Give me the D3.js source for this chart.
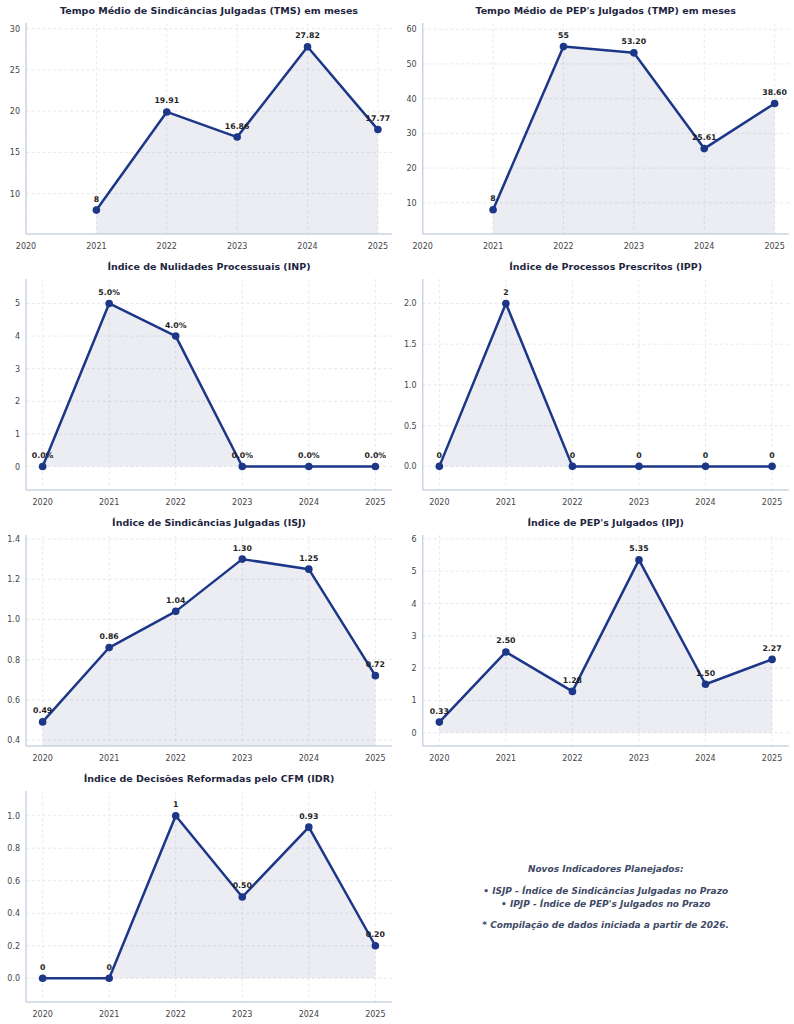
<!DOCTYPE html>
<html>
<head>
<meta charset="utf-8">
<script src="https://cdn.jsdelivr.net/npm/d3@7"></script>
<style>
  body { margin: 0; background: #fff; }
  text { font-family: "DejaVu Sans", sans-serif; }
</style>
</head>
<body>
<div id="chart"></div>
<script>
var years = [2020, 2021, 2022, 2023, 2024, 2025];

var titles = [
    "Tempo Médio de Sindicâncias Julgadas (TMS) em meses",
    "Tempo Médio de PEP's Julgados (TMP) em meses",
    "Índice de Nulidades Processuais (INP)",
    "Índice de Processos Prescritos (IPP)",
    "Índice de Sindicâncias Julgadas (ISJ)",
    "Índice de PEP's Julgados (IPJ)",
    "Índice de Decisões Reformadas pelo CFM (IDR)"
];

var tms = [null, 8, 19.91, 16.86, 27.82, 17.77],
    tmp = [null, 8, 55, 53.20, 25.61, 38.60],
    inp = [0, 5.0, 4.0, 0, 0, 0],
    ipp = [0, 2, 0, 0, 0, 0],
    isj = [0.49, 0.86, 1.04, 1.30, 1.25, 0.72],
    ipj = [0.33, 2.50, 1.28, 5.35, 1.50, 2.27],
    idr = [0, 0, 1, 0.50, 0.93, 0.20];

var series = [tms, tmp, inp, ipp, isj, ipj, idr];

// y limits
var yLimits = [[5.1, 30.7], [1, 61.8], [-0.72, 5.75], [-0.29, 2.3], [0.37, 1.42], [-0.41, 6.12], [-0.146, 1.152]];
var xLimits = [[2020, 2025.2], [2020, 2025.2], [2019.75, 2025.25], [2019.75, 2025.25], [2019.75, 2025.25], [2019.75, 2025.25], [2019.75, 2025.25]];
var tickFormats = ["d", "d", "d", ".1f", ".1f", "d", ".1f"];
var percentLabels = [false, false, true, false, false, false, false];

var notes = [
    "Novos Indicadores Planejados:",
    "• ISJP - Índice de Sindicâncias Julgadas no Prazo",
    "• IPJP - Índice de PEP's Julgados no Prazo",
    "* Compilação de dados iniciada a partir de 2026."
];

var W = 794, H = 1024,
    lineColor = "#1c3688",
    colLeft = [26, 422.7],
    colWidth = 366,
    rowTop = [23, 279, 535, 791],
    axHeight = 211;

var svg = d3.select("#chart").append("svg")
    .attr("width", W)
    .attr("height", H);

series.forEach(function(vals, i) {
    var col = i % 2, row = Math.floor(i / 2);
    var g = svg.append("g")
        .attr("transform", "translate(" + colLeft[col] + "," + rowTop[row] + ")");

    var x = d3.scaleLinear().domain(xLimits[i]).range([0, colWidth]);
    var y = d3.scaleLinear().domain(yLimits[i]).range([axHeight, 0]);
    var yTicks = y.ticks(6);

    // grid
    g.selectAll(".ygrid").data(yTicks).enter().append("line")
        .attr("x1", 0).attr("x2", colWidth)
        .attr("y1", function(d) { return y(d); })
        .attr("y2", function(d) { return y(d); })
        .attr("stroke", "#e3e3e6").attr("stroke-width", 0.8)
        .attr("stroke-dasharray", "3,2.5");
    g.selectAll(".xgrid").data(years).enter().append("line")
        .attr("y1", 0).attr("y2", axHeight)
        .attr("x1", function(d) { return x(d); })
        .attr("x2", function(d) { return x(d); })
        .attr("stroke", "#e3e3e6").attr("stroke-width", 0.8)
        .attr("stroke-dasharray", "3,2.5");

    // clip for the area
    svg.append("clipPath").attr("id", "clip" + i)
        .append("rect").attr("width", colWidth).attr("height", axHeight);

    var pts = years.map(function(yr, j) { return { year: yr, v: vals[j] }; })
        .filter(function(d) { return d.v !== null; });

    var area = d3.area()
        .x(function(d) { return x(d.year); })
        .y0(y(0))
        .y1(function(d) { return y(d.v); });

    g.append("path").datum(pts)
        .attr("clip-path", "url(#clip" + i + ")")
        .attr("d", area)
        .attr("fill", "#2a3a78")
        .attr("fill-opacity", 0.09);

    // spines
    g.append("line").attr("x1", 0).attr("x2", 0).attr("y1", 0).attr("y2", axHeight)
        .attr("stroke", "#cbd3e3").attr("stroke-width", 1.5);
    g.append("line").attr("x1", 0).attr("x2", colWidth).attr("y1", axHeight).attr("y2", axHeight)
        .attr("stroke", "#cbd3e3").attr("stroke-width", 1.5);

    // tick labels
    var fmt = d3.format(tickFormats[i]);
    g.selectAll(".ylab").data(yTicks).enter().append("text")
        .attr("x", -6)
        .attr("y", function(d) { return y(d) + 3; })
        .attr("text-anchor", "end")
        .attr("font-size", "8px")
        .attr("fill", "#454545")
        .text(function(d) { return fmt(d); });
    g.selectAll(".xlab").data(years).enter().append("text")
        .attr("x", function(d) { return x(d); })
        .attr("y", axHeight + 15)
        .attr("text-anchor", "middle")
        .attr("font-size", "8px")
        .attr("fill", "#454545")
        .text(function(d) { return d; });

    // line + markers
    var line = d3.line()
        .x(function(d) { return x(d.year); })
        .y(function(d) { return y(d.v); });

    g.append("path").datum(pts)
        .attr("d", line)
        .attr("fill", "none")
        .attr("stroke", lineColor)
        .attr("stroke-width", 2.5)
        .attr("stroke-linejoin", "round");

    g.selectAll(".dot").data(pts).enter().append("circle")
        .attr("cx", function(d) { return x(d.year); })
        .attr("cy", function(d) { return y(d.v); })
        .attr("r", 3.8)
        .attr("fill", lineColor);

    g.selectAll(".val").data(pts).enter().append("text")
        .attr("x", function(d) { return x(d.year); })
        .attr("y", function(d) { return y(d.v) - 8.5; })
        .attr("text-anchor", "middle")
        .attr("font-size", "7.8px")
        .attr("font-weight", "bold")
        .attr("fill", "#1f1f1f")
        .text(function(d) {
            if (percentLabels[i]) return d.v.toFixed(1) + "%";
            return Number.isInteger(d.v) ? d.v : d.v.toFixed(2);
        });

    // title
    g.append("text")
        .attr("x", colWidth / 2)
        .attr("y", -9)
        .attr("text-anchor", "middle")
        .attr("font-size", "9.5px")
        .attr("font-weight", "bold")
        .attr("fill", "#1e2640")
        .text(titles[i]);
});

// notes in the empty last panel
var noteY = [868.7, 891, 903.3, 924.3];
svg.selectAll(".note").data(notes).enter().append("text")
    .attr("x", 605.7)
    .attr("y", function(d, i) { return noteY[i] + 3.2; })
    .attr("text-anchor", "middle")
    .attr("font-size", "9px")
    .attr("font-weight", "bold")
    .attr("font-style", "italic")
    .attr("fill", "#3e4a66")
    .text(function(d) { return d; });
</script>
</body>
</html>
